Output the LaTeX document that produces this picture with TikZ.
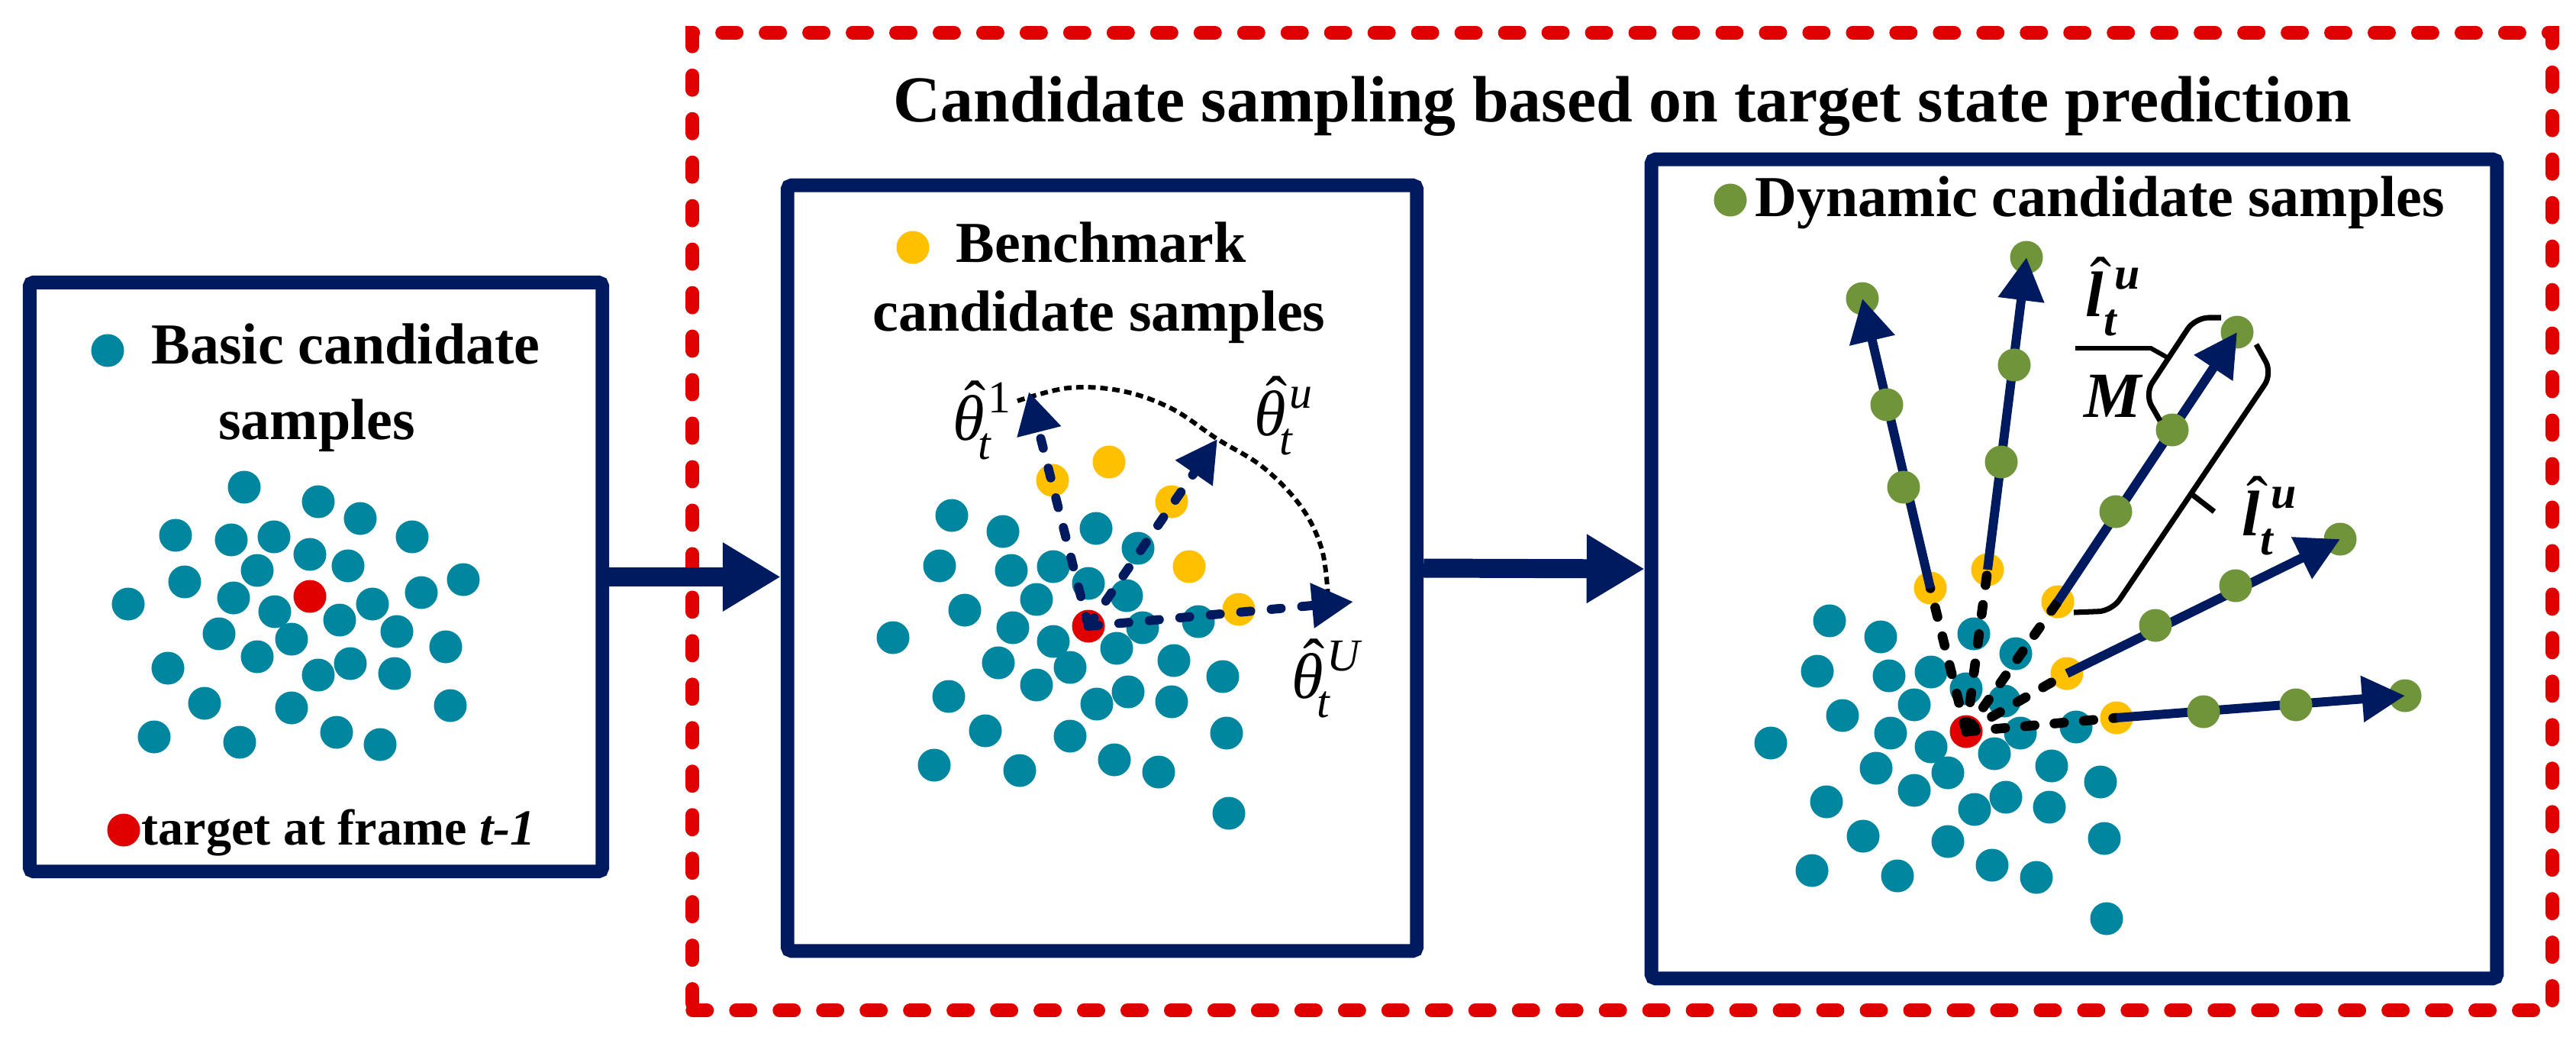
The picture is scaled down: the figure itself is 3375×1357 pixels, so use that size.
\documentclass[tikz,border=0pt]{standalone}
\usepackage[no-math]{fontspec}
\setmainfont{Liberation Serif}
\usetikzlibrary{arrows.meta}
\definecolor{navyc}{RGB}{0,26,96}
\definecolor{tealc}{RGB}{0,134,158}
\definecolor{redc}{RGB}{224,0,0}
\definecolor{yellowc}{RGB}{255,192,0}
\definecolor{greenc}{RGB}{112,148,58}
% #1 font, #2 base letter, #3 superscript, #4 subscript, #5 sup kern, #6 sub kern
\newcommand\hatlab[6]{%
  \ooalign{{#1#2}\cr\hidewidth\kern0.2em\raisebox{0.22em}{\upshape\mdseries ˆ}\hidewidth\cr}%
  \rlap{\kern#5\raisebox{0.42em}{\fontsize{17}{17}\selectfont#3}}%
  \kern#6\raisebox{-0.3em}{\fontsize{17}{17}\selectfont#1#4}}
\newcommand\cloudA{320/638,417/657,472/679,230/701,303/707,359/703,540/703,406/726,337/747,456/741,242/762,607/759,168/791,306/783,488/791,552/776,360/801,445/812,287/830,382/837,520/827,584/847,220/875,337/860,459/869,417/884,517/882,268/921,382/927,590/924,202/965,314/972,441/959,498/975}
\newcommand\cloudB{1247/675,1314/696,1436/692,1231/741,1325/747,1380/742,1491/718,1426/764,1476/780,1264/799,1358/785,1327/822,1170/835,1380/840,1497/822,1570/814,1463/849,1308/868,1402/874,1538/865,1602/886,1358/897,1243/912,1478/906,1437/922,1535/919,1291/957,1402/964,1607/960,1224/1002,1336/1009,1460/995,1518/1011,1610/1065}
\begin{document}
\begin{tikzpicture}[x=0.01cm,y=-0.01cm,
  smp/.style={circle,inner sep=0pt,minimum size=0.43cm,fill=#1},
  box/.style={draw=navyc,line width=5.1pt,rounded corners=1.5pt,inner sep=0pt},
  reddash/.style={draw=redc,line width=5.1pt,dash pattern=on 5.4pt off 10.8pt,line cap=round,inner sep=0pt},
  conn/.style={navyc,line width=7.1pt,-{Triangle[length=21.6pt,width=24.2pt]}},
  navdash/.style={navyc,line width=3.4pt,dash pattern=on 3.7pt off 7.7pt,line cap=round,-{Triangle[length=15.4pt,width=16pt]}},
  blkdash/.style={black,line width=3.6pt,dash pattern=on 3.6pt off 7.4pt,line cap=round},
  blkdot/.style={black,line width=1.7pt,dash pattern=on 2.8pt off 1.7pt},
  navarrow/.style={navyc,line width=3.4pt,-{Triangle[length=16pt,width=16.5pt]}},
  brk/.style={black,line width=2pt,rounded corners=5pt},
  body/.style={inner sep=0pt,font=\fontsize{21.6}{26}\selectfont\bfseries},
  lab/.style={inner sep=0pt,font=\fontsize{24}{29}\selectfont}]
\fill[white] (0,0) rectangle (3375,1357);
\useasboundingbox (0,0) rectangle (3375,1357);

% group frame and title
\node[reddash,minimum width=24.35cm,minimum height=12.8cm] (grp) at (2125.5,683) {};
\node[inner sep=0pt,anchor=base,font=\fontsize{24.4}{29}\selectfont\bfseries] (title) at (2126,159) {Candidate sampling based on target state prediction};

% boxes
\node[box,minimum width=7.5cm,minimum height=7.71cm] (b1) at (414,755.5) {};
\node[box,minimum width=8.24cm,minimum height=10.02cm] (b2) at (1444,744) {};
\node[box,minimum width=11.07cm,minimum height=10.72cm] (b3) at (2717.5,745) {};

\draw[conn] (b1.east) -- (b1.east -| b2.west);
\draw[conn] (b2.east) -- (b3.west);

% ---------- box 1 ----------
\node[smp=tealc] (lg1) at (141,459) {};
\node[body,anchor=base west] (t1a) at (198,476) {Basic candidate};
\node[body,anchor=base] (t1b) at (415,575) {samples};
\foreach \x/\y [count=\i] in \cloudA { \node[smp=tealc] (a\i) at (\x,\y) {}; }
\node[smp=redc] (r1) at (406,781) {};
\node[smp=redc] (lgr) at (162,1087) {};
\node[body,anchor=base west,font=\fontsize{18.8}{23}\selectfont\bfseries] (t1c) at (185,1106) {target at frame \textit{t-1}};

% ---------- box 2 ----------
\node[smp=yellowc] (lg2) at (1196,324) {};
\node[body,anchor=base west] (t2a) at (1252,343) {Benchmark};
\node[body,anchor=base] (t2b) at (1440,433) {candidate samples};
\foreach \x/\y [count=\i] in \cloudB { \node[smp=tealc] (b\i) at (\x,\y) {}; }
\node[smp=yellowc] (y21) at (1379,629) {};
\node[smp=yellowc] (y22) at (1453,605) {};
\node[smp=yellowc] (y23) at (1535,657) {};
\node[smp=yellowc] (y24) at (1558,742) {};
\node[smp=yellowc] (y25) at (1623,798) {};
\node[smp=redc] (r2) at (1426,820) {};
\coordinate (th1) at (1348,513);
\coordinate (thu) at (1595,575);
\coordinate (thU) at (1773,788);
\draw[blkdot] plot[smooth,tension=0.6] coordinates {(1333,525) (1400,508) (1470,512) (1535,535) (1595,575) (1655,612) (1705,664) (1732,720) (1740,783)};
\draw[navdash] (r2.center) -- (th1);
\draw[navdash] (r2.center) -- (thu);
\draw[navdash] (r2.center) -- (thU);
\node[lab,anchor=base west] (L1) at (1248,576) {\hatlab{\itshape}{θ}{1}{t}{0.05em}{-0.1em}};
\node[lab,anchor=base west] (L2) at (1643,570) {\hatlab{\itshape}{θ}{\itshape u}{t}{0.05em}{-0.1em}};
\node[lab,anchor=base west] (L3) at (1692,914) {\hatlab{\itshape}{θ}{\itshape U}{t}{0.05em}{-0.1em}};

% ---------- box 3 ----------
\node[smp=greenc] (lg3) at (2267,262) {};
\node[body,anchor=base west] (t3a) at (2299,283) {Dynamic candidate samples};
\begin{scope}[shift={(1150,138)}]
\foreach \x/\y [count=\i] in \cloudB { \node[smp=tealc] (c\i) at (\x,\y) {}; }
\end{scope}
\node[smp=redc] (r3) at (2576,958) {};
\node[smp=yellowc] (ya) at (2529,770) {};
\node[smp=yellowc] (yb) at (2604,746) {};
\node[smp=yellowc] (yc) at (2696,788) {};
\node[smp=yellowc] (yd) at (2708,882) {};
\node[smp=yellowc] (ye) at (2773,940) {};
\node[smp=greenc] (ga) at (2440,391) {};
\node[smp=greenc] (gb) at (2655,337) {};
\node[smp=greenc] (gc) at (2931,435) {};
\node[smp=greenc] (gd) at (3066,706) {};
\node[smp=greenc] (ge) at (3151,911) {};
\foreach \n in {ya,yb,yc,yd,ye} { \draw[blkdash] (r3.center) -- (\n.center); }
\draw[navarrow] (ya.center) -- (ga.center);
\draw[navarrow] (yb.center) -- (gb.center);
\draw[navarrow] (yc.center) -- (gc.center);
\draw[navarrow] (yd.center) -- (gd.center);
\draw[navarrow] (ye.center) -- (ge.center);
\node[smp=greenc] (ga1) at (2494,638) {};
\node[smp=greenc] (ga2) at (2472,530) {};
\node[smp=greenc] (gb1) at (2622,605) {};
\node[smp=greenc] (gb2) at (2639,478) {};
\node[smp=greenc] (gc1) at (2772,670) {};
\node[smp=greenc] (gc2) at (2846,563) {};
\node[smp=greenc] (gd1) at (2824,819) {};
\node[smp=greenc] (gd2) at (2929,767) {};
\node[smp=greenc] (ge1) at (2887,932) {};
\node[smp=greenc] (ge2) at (3008,923) {};

% brackets
\draw[brk] (2956,451) -- (2977,489) -- (2767,800) -- (2717,802);
\draw[brk] (2870,646) -- (2901,670);
\draw[brk] (2910,416) -- (2876,416) -- (2810,516) -- (2830,551);
\coordinate (smid) at (2841,469);
\draw[black,line width=1.7pt] (2719,456) -- (2818,456) -- (smid);

\node[lab,anchor=base west] (L4) at (2732,414) {\hatlab{\bfseries\itshape}{l}{\bfseries\itshape u}{t}{0.17em}{0em}};
\node[lab,anchor=base,font=\fontsize{24}{29}\selectfont\bfseries\itshape] (L5) at (2768,546) {M};
\node[lab,anchor=base west] (L6) at (2937,701) {\hatlab{\bfseries\itshape}{l}{\bfseries\itshape u}{t}{0.17em}{0em}};
\end{tikzpicture}
\end{document}
